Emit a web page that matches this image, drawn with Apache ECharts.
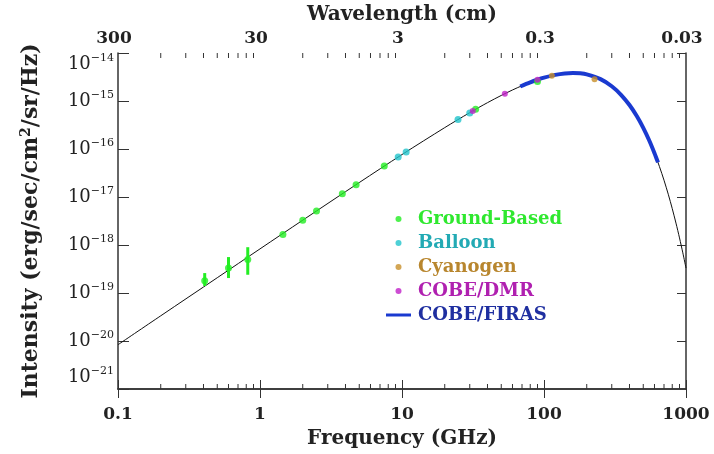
<!DOCTYPE html>
<html>
<head>
<meta charset="utf-8">
<script src="https://cdn.jsdelivr.net/npm/echarts@6/dist/echarts.min.js"></script>
<style>
  html, body { margin: 0; padding: 0; background: #fff; }
  #chart { width: 714px; height: 454px; }
</style>
</head>
<body>
<div id="chart"></div>
<script>
// Cosmic microwave background spectrum: intensity vs frequency (log-log)

// Blackbody curve (T = 2.725 K), frequency in GHz, intensity in erg/sec/cm^2/sr/Hz
const curveFreq = [0.1, 0.2, 0.5, 1, 2, 5, 10, 20, 30, 40, 50, 60, 70, 80, 100, 120, 140, 160, 180, 200,
  250, 300, 350, 400, 450, 500, 550, 600, 650, 700, 750, 800, 850, 900, 950, 1000];
const curveInt = [8.37e-21, 3.35e-20, 2.08e-19, 8.30e-19, 3.29e-18, 2.00e-17, 7.66e-17, 2.79e-16, 5.72e-16, 9.23e-16,
  1.305e-15, 1.697e-15, 2.081e-15, 2.442e-15, 3.059e-15, 3.502e-15, 3.757e-15, 3.837e-15, 3.770e-15, 3.590e-15,
  2.855e-15, 2.031e-15, 1.333e-15, 8.24e-16, 4.86e-16, 2.763e-16, 1.524e-16, 8.20e-17, 4.32e-17, 2.238e-17,
  1.142e-17, 5.74e-18, 2.857e-18, 1.405e-18, 6.86e-19, 3.31e-19];

// COBE/FIRAS spectrum
const firasFreq = [68, 80, 90, 100, 120, 140, 160, 180, 200, 250, 300, 350, 400, 450, 500, 550, 600, 635];
const firasInt = [2.006e-15, 2.442e-15, 2.771e-15, 3.059e-15, 3.502e-15, 3.757e-15, 3.837e-15, 3.770e-15, 3.590e-15,
  2.855e-15, 2.031e-15, 1.333e-15, 8.24e-16, 4.86e-16, 2.763e-16, 1.524e-16, 8.20e-17, 5.25e-17];

// Ground-based measurements (with error bars where large)
const groundFreq = [0.408, 0.6, 0.82, 1.45, 2.0, 2.5, 3.8, 4.75, 7.5, 33, 90];
const groundInt = [1.8e-19, 3.3e-19, 5.0e-19, 1.65e-18, 3.29e-18, 5.1e-18, 1.17e-17, 1.81e-17, 4.4e-17, 6.72e-16, 2.55e-15];
const groundLow = [1.4e-19, 2.05e-19, 2.4e-19, null, null, null, null, null, null, null, null];
const groundHigh = [2.6e-19, 5.6e-19, 9.0e-19, null, null, null, null, null, null, null, null];

// Balloon measurements
const balloonFreq = [9.4, 10.7, 24.8, 30];
const balloonInt = [6.8e-17, 8.7e-17, 4.1e-16, 5.6e-16];

// Interstellar cyanogen excitation
const cyanFreq = [113.6, 227];
const cyanInt = [3.35e-15, 2.85e-15];

// COBE/DMR
const dmrFreq = [31.5, 53, 90];
const dmrInt = [6.2e-16, 1.42e-15, 2.77e-15];

// Axis ticks
const freqTicks = [0.1, 1, 10, 100, 1000];
const freqLabels = ['0.1', '1', '10', '100', '1000'];
const waveLabels = ['300', '30', '3', '0.3', '0.03'];
const minorFreq = [0.2, 0.3, 0.4, 0.5, 0.6, 0.7, 0.8, 0.9, 2, 3, 4, 5, 6, 7, 8, 9,
  20, 30, 40, 50, 60, 70, 80, 90, 200, 300, 400, 500, 600, 700, 800, 900];
const intensityTicks = [1e-21, 1e-20, 1e-19, 1e-18, 1e-17, 1e-16, 1e-15, 1e-14];
const intensityExponents = ['21', '20', '19', '18', '17', '16', '15', '14'];

const Y_MIN = 1e-21, Y_MAX = 1e-14;
const SERIF = '"DejaVu Serif", "Liberation Serif", serif';
const AXIS_COLOR = '#333';
const TEXT_COLOR = '#222';

const zip = (a, b) => a.map((v, i) => [v, b[i]]);

const errData = groundFreq.map((f, i) => [f, groundLow[i], groundHigh[i]])
  .filter(d => d[1] != null);

const labelIndex = v => freqTicks.findIndex(t => Math.abs(Math.log10(t) - Math.log10(v)) < 1e-6);
const yLabelIndex = v => intensityTicks.findIndex(t => Math.abs(Math.log10(t) - Math.log10(v)) < 1e-6);

const titleStyle = { fontFamily: SERIF, fontSize: 20, fontWeight: 'bold', color: TEXT_COLOR };

const chart = echarts.init(document.getElementById('chart'));

chart.setOption({
  backgroundColor: '#fff',
  animation: false,
  grid: { left: 118, right: 28, top: 53, bottom: 65, containLabel: false, outerBoundsMode: 'none' },
  legend: {
    orient: 'vertical',
    left: 381,
    top: 205,
    itemWidth: 25,
    itemHeight: 6,
    itemGap: 6,
    textStyle: { fontFamily: SERIF, fontSize: 18, fontWeight: 'bold', padding: [0, 0, 0, 2] },
    data: [
      { name: 'Ground-Based', icon: 'circle', textStyle: { color: '#2fe82f' } },
      { name: 'Balloon', icon: 'circle', textStyle: { color: '#22aab4' } },
      { name: 'Cyanogen', icon: 'circle', textStyle: { color: '#b8862e' } },
      { name: 'COBE/DMR', icon: 'circle', textStyle: { color: '#b020b0' } },
      { name: 'COBE/FIRAS', icon: 'path://M0,0H25V3H0Z', textStyle: { color: '#1f2fa0' } }
    ]
  },
  xAxis: [
    {
      type: 'log', logBase: 10, min: 0.1, max: 1000, position: 'bottom',
      name: 'Frequency (GHz)', nameLocation: 'middle', nameGap: 40, nameMoveOverlap: false,
      nameTextStyle: titleStyle,
      axisLine: { lineStyle: { color: AXIS_COLOR, width: 1.5 } },
      axisTick: { inside: true, length: 9, lineStyle: { color: AXIS_COLOR } },
      splitLine: { show: false },
      axisLabel: {
        margin: 17, fontFamily: SERIF, fontSize: 17, fontWeight: 'bold', color: TEXT_COLOR,
        showMinLabel: true, showMaxLabel: true,
        formatter: v => freqLabels[labelIndex(v)] ?? ''
      }
    },
    {
      type: 'log', logBase: 10, min: 0.1, max: 1000, position: 'top',
      name: 'Wavelength (cm)', nameLocation: 'middle', nameGap: 28, nameMoveOverlap: false,
      nameTextStyle: titleStyle,
      axisLine: { lineStyle: { color: AXIS_COLOR, width: 1.5 } },
      axisTick: { inside: true, length: 9, lineStyle: { color: AXIS_COLOR } },
      splitLine: { show: false },
      axisLabel: {
        margin: 6, fontFamily: SERIF, fontSize: 17, fontWeight: 'bold', color: TEXT_COLOR,
        padding: [0, 8, 0, 0], showMinLabel: true, showMaxLabel: true,
        formatter: v => waveLabels[labelIndex(v)] ?? ''
      }
    }
  ],
  yAxis: [
    {
      type: 'log', logBase: 10, min: Y_MIN, max: Y_MAX, position: 'left',
      name: 'Intensity (erg/sec/cm{sup|2}/sr/Hz)', nameLocation: 'middle', nameGap: 74,
      nameMoveOverlap: false, nameRotate: 90,
      nameTextStyle: Object.assign({}, titleStyle, {
        fontSize: 22,
        rich: {
          sup: { fontFamily: SERIF, fontSize: 14, fontWeight: 'bold', color: TEXT_COLOR, padding: [0, 0, 11, 0] }
        }
      }),
      axisLine: { lineStyle: { color: AXIS_COLOR, width: 1.5 } },
      axisTick: { inside: true, length: 11, lineStyle: { color: AXIS_COLOR }, customValues: intensityTicks },
      splitLine: { show: false },
      axisLabel: {
        margin: 4, showMinLabel: true, showMaxLabel: true, hideOverlap: false,
        customValues: intensityTicks,
        verticalAlignMinLabel: 'bottom',
        verticalAlignMaxLabel: 'top',
        formatter: v => '{b|10}{s|\u2212' + intensityExponents[yLabelIndex(v)] + '}',
        rich: {
          b: { fontFamily: SERIF, fontSize: 18, color: TEXT_COLOR },
          s: { fontFamily: SERIF, fontSize: 11, color: TEXT_COLOR, padding: [0, 0, 12, 0] }
        }
      }
    },
    {
      type: 'log', logBase: 10, min: Y_MIN, max: Y_MAX, position: 'right',
      axisLine: { lineStyle: { color: AXIS_COLOR, width: 1.5 } },
      axisTick: { inside: true, length: 9, lineStyle: { color: AXIS_COLOR } },
      axisLabel: { show: false },
      splitLine: { show: false }
    }
  ],
  series: [
    {
      name: 'Blackbody', type: 'line', data: zip(curveFreq, curveInt),
      showSymbol: false, smooth: 0.3, silent: true, z: 2,
      lineStyle: { color: '#111', width: 1 }
    },
    {
      name: 'COBE/FIRAS', type: 'line', data: zip(firasFreq, firasInt),
      showSymbol: false, smooth: 0.3, z: 3,
      itemStyle: { color: '#1a3ad0' },
      lineStyle: { color: '#1a3ad0', width: 4 }
    },
    {
      name: 'Ground error', type: 'custom', data: errData, z: 4, silent: true,
      renderItem: (params, api) => {
        const lo = api.coord([api.value(0), api.value(1)]);
        const hi = api.coord([api.value(0), api.value(2)]);
        return {
          type: 'line',
          shape: { x1: lo[0], y1: lo[1], x2: hi[0], y2: hi[1] },
          style: { stroke: '#22ee22', lineWidth: 3 }
        };
      }
    },
    {
      name: 'Ground-Based', type: 'scatter', data: zip(groundFreq, groundInt), z: 5,
      symbol: 'circle', symbolSize: 7, itemStyle: { color: '#22ee22' }
    },
    {
      name: 'Balloon', type: 'scatter', data: zip(balloonFreq, balloonInt), z: 5,
      symbol: 'circle', symbolSize: 7, itemStyle: { color: '#22c4cc' }
    },
    {
      name: 'Cyanogen', type: 'scatter', data: zip(cyanFreq, cyanInt), z: 6,
      symbol: 'circle', symbolSize: 6, itemStyle: { color: '#c8902a' }
    },
    {
      name: 'COBE/DMR', type: 'scatter', data: zip(dmrFreq, dmrInt), z: 6,
      symbol: 'circle', symbolSize: 6, itemStyle: { color: '#c020c8' }
    },
    {
      // minor ticks on the bottom and top frequency axes
      name: 'Minor ticks', type: 'custom', data: minorFreq.map(v => [v, Y_MIN]), z: 10, silent: true,
      clip: false,
      renderItem: (params, api) => {
        const b = api.coord([api.value(0), Y_MIN]);
        const t = api.coord([api.value(0), Y_MAX]);
        const st = { stroke: AXIS_COLOR, lineWidth: 1 };
        return {
          type: 'group',
          children: [
            { type: 'line', shape: { x1: b[0], y1: b[1], x2: b[0], y2: b[1] - 5 }, style: st },
            { type: 'line', shape: { x1: t[0], y1: t[1], x2: t[0], y2: t[1] + 5 }, style: st }
          ]
        };
      }
    }
  ]
});
</script>
</body>
</html>
